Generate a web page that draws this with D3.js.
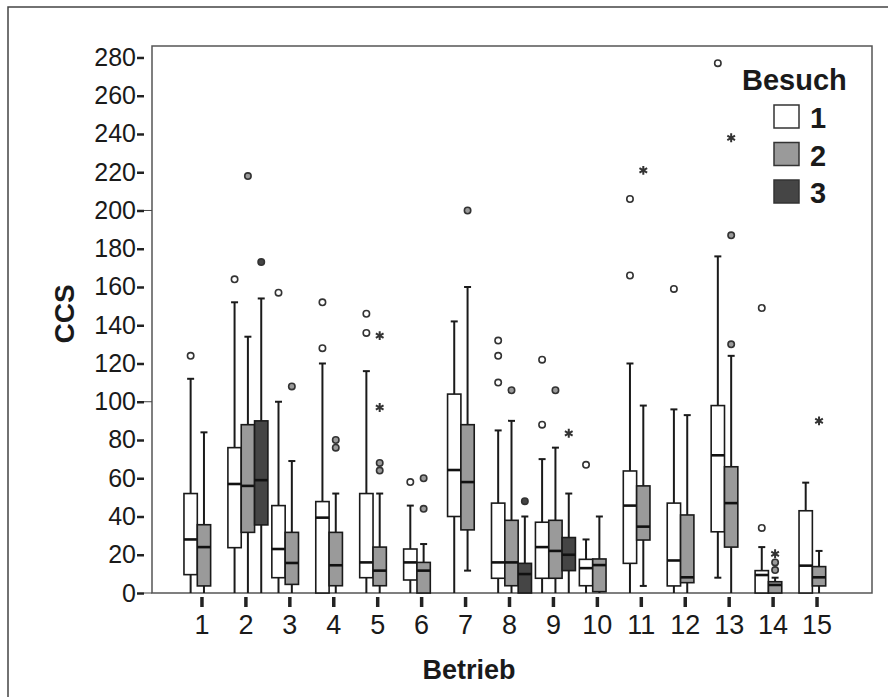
<!DOCTYPE html>
<html>
<head>
<meta charset="utf-8">
<script src="https://cdn.jsdelivr.net/npm/d3@7"></script>
<style>
  html, body { margin: 0; padding: 0; background: #fff; }
  svg { display: block; }
  text { font-family: "Liberation Sans", Arial, Helvetica, sans-serif; fill: #1a1a1a; }
</style>
</head>
<body>
<svg id="chart" width="888" height="697"></svg>
<script>
// ---------- data ----------
const categories = ["1","2","3","4","5","6","7","8","9","10","11","12","13","14","15"];
const visits = ["1","2","3"];
const yTicks = [0,20,40,60,80,100,120,140,160,180,200,220,240,260,280];

// [whisker low, Q1, median, Q3, whisker high] per Betrieb (null = no data)
const besuch1 = [
  [0, 9.6, 28, 52, 112],
  [0, 23.7, 57, 76, 152],
  [0, 8, 23, 45.7, 100],
  [0, 0, 39.4, 47.8, 120],
  [0, 8, 16, 52, 116],
  [0, 6.8, 16, 23, 45.7],
  [0, 40, 64.3, 104, 142],
  [0, 7.7, 16, 47, 85],
  [0, 7.7, 24, 37, 70],
  [0, 3.8, 13, 17.6, 28],
  [0, 15.5, 45.7, 63.8, 120],
  [0, 3.7, 17, 47, 96],
  [8, 32, 72, 98, 176],
  [0, 0, 9.4, 11.7, 24],
  [0, 0, 14.3, 43, 57.7]
];
const besuch2 = [
  [0, 3.7, 24, 35.7, 84],
  [0, 31.7, 56, 88, 134],
  [0, 4.5, 15.7, 31.7, 69],
  [0, 3.8, 14.5, 31.7, 52],
  [0, 3.8, 11.7, 24, 52],
  [0, 0, 11.7, 16, 25.6],
  [11.7, 33, 58, 88, 160],
  [0, 3.8, 16, 38, 90],
  [0, 7.7, 22, 38, 76],
  [0, 0.7, 14.6, 17.8, 40],
  [3.7, 27.7, 34.7, 56, 98],
  [0, 5.4, 8.2, 40.8, 93],
  [0, 24, 47, 66, 124],
  [0, 0, 4.2, 5.9, 8],
  [0, 3.7, 8.2, 13.8, 22]
];
const besuch3 = [
  null,
  [0, 35.6, 59, 90, 154],
  null, null, null, null, null,
  [0, 0, 9.9, 15.5, 40],
  [0, 11.7, 20, 29, 52],
  null, null, null, null, null, null
];

// outliers (circles) and extremes (stars): [Betrieb, value]
const outliers1 = [[1,124],[2,164],[3,157],[4,152],[4,128],[5,146],[5,136],[6,58],[8,132],[8,124],[8,110],[9,122],[9,88],[10,67],[11,206],[11,166],[12,159],[13,277],[14,149],[14,34]];
const outliers2 = [[2,218],[3,108],[4,80],[4,76],[5,68],[5,64],[6,60],[6,44],[7,200],[8,106],[9,106],[13,187],[13,130],[14,12],[14,16]];
const outliers3 = [[2,173],[8,48]];
const extremes1 = [];
const extremes2 = [[5,134.6],[5,97],[11,221],[13,238],[14,20.5],[15,90]];
const extremes3 = [[9,83.5]];

const fills = ["#ffffff", "#9a9a9a", "#454545"];

// ---------- layout ----------
const svg = d3.select("#chart");
const plot = { left: 152, right: 872, top: 46, bottom: 593 };

const y = d3.scaleLinear().domain([0, 286]).range([plot.bottom, plot.top]);
const xCat = d3.scaleBand().domain(categories).range([180, 839]);
const xVisit = d3.scaleBand().domain(visits).range([-18, 22]);

// outer frame
svg.append("rect")
  .attr("x", 8).attr("y", 7).attr("width", 900).attr("height", 720)
  .attr("fill", "none").attr("stroke", "#444").attr("stroke-width", 1.5);

// plot frame
svg.append("rect")
  .attr("x", plot.left).attr("y", plot.top)
  .attr("width", plot.right - plot.left).attr("height", plot.bottom - plot.top)
  .attr("fill", "none").attr("stroke", "#555").attr("stroke-width", 1.5);

// y axis
const yAxis = svg.append("g")
  .attr("transform", "translate(144,0)")
  .call(d3.axisLeft(y).tickValues(yTicks).tickSizeInner(7).tickSizeOuter(0).tickPadding(1));
yAxis.select(".domain").remove();
yAxis.selectAll(".tick line").attr("stroke", "#222").attr("stroke-width", 2.5);
yAxis.selectAll(".tick text").style("font-size", "25px").attr("fill", "#1a1a1a");
// connector lines at 0/100/200
svg.selectAll(".conn").data([0,100,200]).enter().append("line")
  .attr("x1", 144).attr("x2", plot.left)
  .attr("y1", d => y(d)).attr("y2", d => y(d))
  .attr("stroke", "#444").attr("stroke-width", 1);

// x axis
const xAxis = svg.append("g")
  .attr("transform", `translate(0,${plot.bottom + 4})`)
  .call(d3.axisBottom(xCat).tickSizeInner(10).tickSizeOuter(0).tickPadding(8));
xAxis.select(".domain").remove();
xAxis.selectAll(".tick line").attr("stroke", "#222").attr("stroke-width", 3.5);
xAxis.selectAll(".tick text").style("font-size", "27px").attr("fill", "#1a1a1a");

// axis titles
svg.append("text")
  .attr("transform", "translate(74,314) rotate(-90)")
  .attr("text-anchor", "middle")
  .style("font-size", "28px").style("font-weight", "bold")
  .text("CCS");
svg.append("text")
  .attr("x", 469).attr("y", 679)
  .attr("text-anchor", "middle")
  .style("font-size", "27px").style("font-weight", "bold")
  .text("Betrieb");

// ---------- boxes ----------
const series = [besuch1, besuch2, besuch3];
const outlierSets = [outliers1, outliers2, outliers3];
const extremeSets = [extremes1, extremes2, extremes3];
const bw = xVisit.bandwidth();
const capW = 7;

series.forEach((data, vi) => {
  const g = svg.append("g");
  const rows = data.map((d, i) => d ? { cat: categories[i], s: d } : null).filter(d => d);
  const cx = d => xCat(d.cat) + xCat.bandwidth() / 2 + xVisit(visits[vi]);

  const grp = g.selectAll("g.box").data(rows).enter().append("g").attr("class", "box");
  // upper whisker
  grp.append("line")
    .attr("x1", d => cx(d) + bw / 2).attr("x2", d => cx(d) + bw / 2)
    .attr("y1", d => y(d.s[3])).attr("y2", d => y(d.s[4]))
    .attr("stroke", "#1a1a1a").attr("stroke-width", 2);
  grp.filter(d => d.s[4] > d.s[3]).append("line")
    .attr("x1", d => cx(d) + bw / 2 - capW / 2).attr("x2", d => cx(d) + bw / 2 + capW / 2)
    .attr("y1", d => y(d.s[4])).attr("y2", d => y(d.s[4]))
    .attr("stroke", "#1a1a1a").attr("stroke-width", 2);
  // lower whisker
  grp.append("line")
    .attr("x1", d => cx(d) + bw / 2).attr("x2", d => cx(d) + bw / 2)
    .attr("y1", d => y(d.s[1])).attr("y2", d => y(d.s[0]))
    .attr("stroke", "#1a1a1a").attr("stroke-width", 2);
  grp.filter(d => d.s[0] > 0).append("line")
    .attr("x1", d => cx(d) + bw / 2 - capW / 2).attr("x2", d => cx(d) + bw / 2 + capW / 2)
    .attr("y1", d => y(d.s[0])).attr("y2", d => y(d.s[0]))
    .attr("stroke", "#1a1a1a").attr("stroke-width", 2);
  // box
  grp.append("rect")
    .attr("x", d => cx(d)).attr("width", bw)
    .attr("y", d => y(d.s[3])).attr("height", d => y(d.s[1]) - y(d.s[3]))
    .attr("fill", fills[vi]).attr("stroke", "#1a1a1a").attr("stroke-width", 1.6);
  // median
  grp.append("line")
    .attr("x1", d => cx(d)).attr("x2", d => cx(d) + bw)
    .attr("y1", d => y(d.s[2])).attr("y2", d => y(d.s[2]))
    .attr("stroke", "#111").attr("stroke-width", 2.6);

  // outliers
  const px = c => xCat(String(c)) + xCat.bandwidth() / 2 + xVisit(visits[vi]) + bw / 2;
  g.selectAll("circle.out").data(outlierSets[vi]).enter().append("circle")
    .attr("cx", d => px(d[0])).attr("cy", d => y(d[1]))
    .attr("r", 3.2)
    .attr("fill", vi === 0 ? "#fff" : fills[vi])
    .attr("stroke", "#333").attr("stroke-width", 1.6);
  // extremes
  g.selectAll("path.ext").data(extremeSets[vi]).enter().append("path")
    .attr("transform", d => `translate(${px(d[0])},${y(d[1])})`)
    .attr("d", d3.symbol(d3.symbolAsterisk, 55)())
    .attr("fill", "none").attr("stroke", "#333").attr("stroke-width", 2);
});

// ---------- legend ----------
svg.append("text")
  .attr("x", 742).attr("y", 90)
  .style("font-size", "29px").style("font-weight", "bold")
  .text("Besuch");
const leg = svg.selectAll("g.leg").data(visits).enter().append("g").attr("class", "leg")
  .attr("transform", (d, i) => `translate(774,${105 + i * 37.5})`);
leg.append("rect")
  .attr("width", 25).attr("height", 23)
  .attr("fill", (d, i) => fills[i]).attr("stroke", "#333").attr("stroke-width", 1.5);
leg.append("text")
  .attr("x", 36).attr("y", 23)
  .style("font-size", "29px").style("font-weight", "bold")
  .text(d => d);
</script>
</body>
</html>
